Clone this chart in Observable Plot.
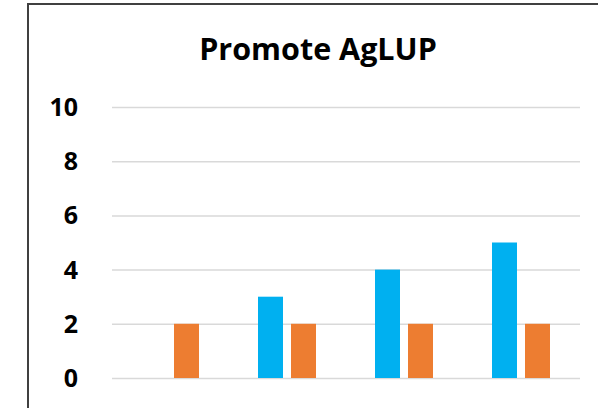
<!DOCTYPE html>
<html>
<head>
<meta charset="utf-8">
<script src="https://cdn.jsdelivr.net/npm/d3@7"></script>
<script src="https://cdn.jsdelivr.net/npm/@observablehq/plot@0.6"></script>
<style>
  html, body { margin: 0; padding: 0; background: #fff; }
  #wrap { position: relative; width: 598px; height: 408px; overflow: hidden; font-family: "Open Sans", sans-serif; }
  #frame { position: absolute; left: 27px; top: 3px; width: 700px; height: 500px; border-left: 2px solid #404040; border-top: 2px solid #404040; }
  #chart { position: absolute; left: 0; top: 0; }
</style>
</head>
<body>
<div id="wrap">
  <div id="frame"></div>
  <div id="chart"></div>
</div>
<script>
const title = "Promote AgLUP";
const groups = ["1", "2", "3", "4"];
const series = ["Series 1", "Series 2"];
const series1Values = [0, 3, 4, 5];
const series2Values = [2, 2, 2, 2];
const yTicks = [0, 2, 4, 6, 8, 10];
const colors = ["#00b0f0", "#ed7d31"];

const data = [];
groups.forEach((g, i) => {
  data.push({group: g, series: series[0], value: series1Values[i]});
  data.push({group: g, series: series[1], value: series2Values[i]});
});

const plot = Plot.plot({
  width: 598,
  height: 408,
  marginLeft: 110,
  marginRight: 17,
  marginTop: 107,
  marginBottom: 30,
  style: {background: "transparent", fontFamily: "'Open Sans', sans-serif"},
  fx: {domain: groups, padding: 0, axis: null},
  x: {domain: series, paddingInner: 0.235, paddingOuter: 0.85, axis: null},
  y: {domain: [0, 10], ticks: yTicks, axis: null},
  color: {domain: series, range: colors},
  marks: [
    Plot.ruleY(yTicks, {stroke: "#d9d9d9", strokeWidth: 1.5}),
    Plot.barY(data.filter(d => d.value > 0), {fx: "group", x: "series", y: "value", fill: "series"}),
  ]
});

const yScale = plot.scale("y");
const svg = d3.select(plot);
const g = svg.append("g").attr("font-size", 25).attr("font-weight", "bold").attr("fill", "#000").attr("text-anchor", "end");
yTicks.forEach(t => {
  const yy = yScale.apply(t);
  g.append("text").attr("x", 78).attr("y", yy).attr("dy", "0.36em").text(t);
});
svg.append("text").attr("x", 318).attr("y", 60).attr("text-anchor", "middle")
  .attr("font-size", 30.5).attr("font-weight", "bold").attr("fill", "#000").text(title);

document.getElementById("chart").appendChild(plot);
</script>
</body>
</html>
